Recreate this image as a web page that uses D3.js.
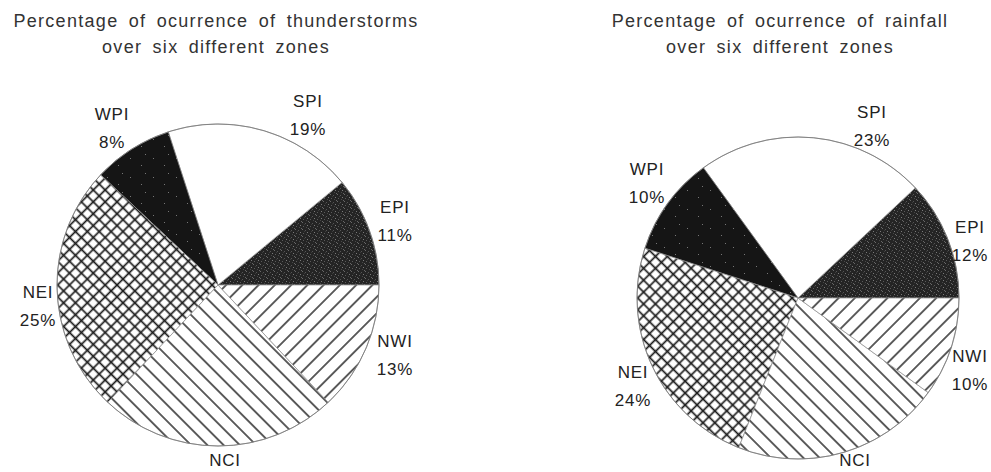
<!DOCTYPE html>
<html>
<head>
<meta charset="utf-8">
<script src="https://cdn.jsdelivr.net/npm/d3@7"></script>
<style>
  body { margin: 0; background: #fff; }
  svg text { font-family: "Liberation Sans", Arial, sans-serif; fill: #222; }
</style>
</head>
<body>
<svg id="chart" width="991" height="472"></svg>
<script>
// zones, counterclockwise from east
var zones = ["EPI", "SPI", "WPI", "NEI", "NCI", "NWI"];
var thunderValues = [11, 19, 8, 25, 24, 13];
var rainValues = [12, 23, 10, 24, 21, 10];
var showPct = [true, true, true, true, false, true];
var thunderTitle = ["Percentage of ocurrence of thunderstorms", "over six different zones"];
var rainTitle = ["Percentage of ocurrence of rainfall", "over six different zones"];

// label anchors relative to pie centre (layout only)
var thunderLabelPos = [[177, -72], [90, -178], [-106, -165], [-180, 13], [7, 181], [177, 62]];
var rainLabelPos = [[172, -65], [74, -180], [-151, -123], [-165, 80], [57, 168], [172, 64]];

var svg = d3.select("svg#chart");
var defs = svg.append("defs");

// EPI: dark stipple
var stip = defs.append("pattern")
    .attr("id", "stipple")
    .attr("patternUnits", "userSpaceOnUse")
    .attr("width", 7).attr("height", 7);
stip.append("rect").attr("width", 7).attr("height", 7).attr("fill", "#242424");
[[0, 0, "#6a6a6a"], [3, 1, "#555"], [5, 3, "#7a7a7a"], [1, 4, "#5a5a5a"], [4, 5, "#484848"], [6, 6, "#666"], [2, 2, "#3c3c3c"]]
    .forEach(function(p) {
        stip.append("rect").attr("x", p[0]).attr("y", p[1]).attr("width", 1).attr("height", 1).attr("fill", p[2]);
    });

// WPI: black with a few specks
var blk = defs.append("pattern")
    .attr("id", "black")
    .attr("patternUnits", "userSpaceOnUse")
    .attr("width", 23).attr("height", 19);
blk.append("rect").attr("width", 23).attr("height", 19).attr("fill", "#151515");
[[4, 6], [15, 13], [19, 2]].forEach(function(p) {
    blk.append("rect").attr("x", p[0]).attr("y", p[1]).attr("width", 1).attr("height", 1).attr("fill", "#777");
});

// NEI: crosshatch
var cg = 8.4;
var cross = defs.append("pattern")
    .attr("id", "cross")
    .attr("patternUnits", "userSpaceOnUse")
    .attr("width", cg).attr("height", cg)
    .attr("patternTransform", "rotate(45)");
cross.append("rect").attr("width", cg).attr("height", cg).attr("fill", "#fff");
cross.append("line").attr("x1", cg / 2).attr("y1", 0).attr("x2", cg / 2).attr("y2", cg).attr("stroke", "#1a1a1a").attr("stroke-width", 1.7);
cross.append("line").attr("x1", 0).attr("y1", cg / 2).attr("x2", cg).attr("y2", cg / 2).attr("stroke", "#1a1a1a").attr("stroke-width", 1.7);

// NCI "\" and NWI "/" hatches
function hatch(id, angle, gap) {
    var p = defs.append("pattern")
        .attr("id", id)
        .attr("patternUnits", "userSpaceOnUse")
        .attr("width", gap).attr("height", gap)
        .attr("patternTransform", "rotate(" + angle + ")");
    p.append("rect").attr("width", gap).attr("height", gap).attr("fill", "#fff");
    p.append("line").attr("x1", gap / 2).attr("y1", 0).attr("x2", gap / 2).attr("y2", gap)
        .attr("stroke", "#1a1a1a").attr("stroke-width", 1.4);
}
hatch("back", -45, 11.5);
hatch("fwd", 45, 11.5);

var fills = ["url(#stipple)", "#fff", "url(#black)", "url(#cross)", "url(#back)", "url(#fwd)"];

var pie = d3.pie()
    .sort(null)
    .value(d => d.value)
    .startAngle(Math.PI / 2)
    .endAngle(Math.PI / 2 - 2 * Math.PI);

var radius = 161;
var arc = d3.arc().innerRadius(0).outerRadius(radius);

drawPie(218, 285, 216, thunderTitle, thunderValues, thunderLabelPos);
drawPie(798, 298, 780, rainTitle, rainValues, rainLabelPos);

function drawPie(cx, cy, titleX, title, values, labelPos) {
    var data = zones.map((z, i) => ({ zone: z, value: values[i], i: i }));

    svg.append("g")
        .selectAll("text")
        .data(title)
        .enter()
        .append("text")
        .attr("x", titleX)
        .attr("y", (d, i) => 27 + i * 26)
        .attr("text-anchor", "middle")
        .style("font-size", "18px")
        .style("letter-spacing", "1.3px")
        .style("word-spacing", "4px")
        .style("fill", "#333")
        .text(d => d);

    var g = svg.append("g")
        .attr("transform", "translate(" + cx + "," + cy + ")");

    g.selectAll("path.slice")
        .data(pie(data))
        .enter()
        .append("path")
        .attr("class", "slice")
        .attr("d", arc)
        .attr("fill", d => fills[d.data.i])
        .attr("stroke", "#8a8a8a")
        .attr("stroke-width", 0.7);

    g.append("circle")
        .attr("r", radius)
        .attr("fill", "none")
        .attr("stroke", "#777")
        .attr("stroke-width", 0.8);

    var lab = g.selectAll("g.label")
        .data(data)
        .enter()
        .append("g")
        .attr("class", "label")
        .attr("transform", d => "translate(" + labelPos[d.i][0] + "," + labelPos[d.i][1] + ")");

    lab.append("text")
        .attr("text-anchor", "middle")
        .style("font-size", "17px")
        .style("letter-spacing", "0.8px")
        .text(d => d.zone);

    lab.filter(d => showPct[d.i])
        .append("text")
        .attr("text-anchor", "middle")
        .attr("y", 28)
        .style("font-size", "17px")
        .style("letter-spacing", "0.8px")
        .text(d => d.value + "%");
}
</script>
</body>
</html>
